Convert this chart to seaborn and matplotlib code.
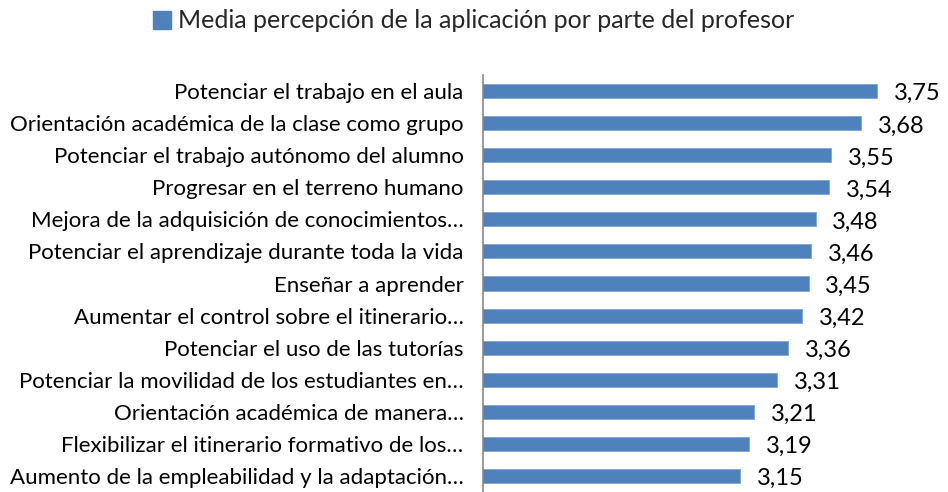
import pandas as pd
import numpy as np
import seaborn as sns
import matplotlib.pyplot as plt
from matplotlib.patches import Patch

# data
categorias = [
    "Potenciar el trabajo en el aula",
    "Orientación académica de la clase como grupo",
    "Potenciar el trabajo autónomo del alumno",
    "Progresar en el terreno humano",
    "Mejora de la adquisición de conocimientos…",
    "Potenciar el aprendizaje durante toda la vida",
    "Enseñar a aprender",
    "Aumentar el control sobre el itinerario…",
    "Potenciar el uso de las tutorías",
    "Potenciar la movilidad de los estudiantes en…",
    "Orientación académica de manera…",
    "Flexibilizar el itinerario formativo de los…",
    "Aumento de la empleabilidad y la adaptación…",
]
medias = [3.75, 3.68, 3.55, 3.54, 3.48, 3.46, 3.45, 3.42, 3.36, 3.31, 3.21, 3.19, 3.15]
serie = "Media percepción de la aplicación por parte del profesor"

df = pd.DataFrame({"categoria": categorias, "media": medias})

sns.set_theme(style="white")
plt.rcParams["font.family"] = ["Lato", "DejaVu Sans"]

fig = plt.figure(figsize=(9.48, 4.92), dpi=100)
ax = fig.add_axes([483 / 948, 0, 1 - 483 / 948 - 0.01, (492 - 75) / 492])

color = "#4F81BD"
sns.barplot(data=df, y="categoria", x="media", orient="h", color=color,
            width=0.44, saturation=1, ax=ax, edgecolor="#7FA3D0", linewidth=0.6)

ax.set_xlim(2.02, 4.02)
ax.set_ylim(12.5, -0.5)
ax.set_xlabel("")
ax.set_ylabel("")
ax.set_xticks([])
ax.tick_params(axis="y", length=0, pad=14, labelsize=16, labelcolor="black")
for s in ["top", "right", "bottom"]:
    ax.spines[s].set_visible(False)
ax.spines["left"].set_color("#888888")
ax.spines["left"].set_linewidth(1.2)

# value labels
for i, v in enumerate(medias):
    ax.annotate(f"{v:.2f}".replace(".", ","), xy=(v, i), xytext=(12, -2),
                textcoords="offset points", ha="left", va="center",
                fontsize=17, color="black")

# legend on top
fig.legend(handles=[Patch(facecolor=color, edgecolor=color)], labels=[serie],
           loc="center", bbox_to_anchor=(0.5, 1 - 21 / 492), frameon=False,
           fontsize=18, handlelength=0.7, handleheight=0.7, handletextpad=0.3)

fig.savefig("out.png", dpi=100)
